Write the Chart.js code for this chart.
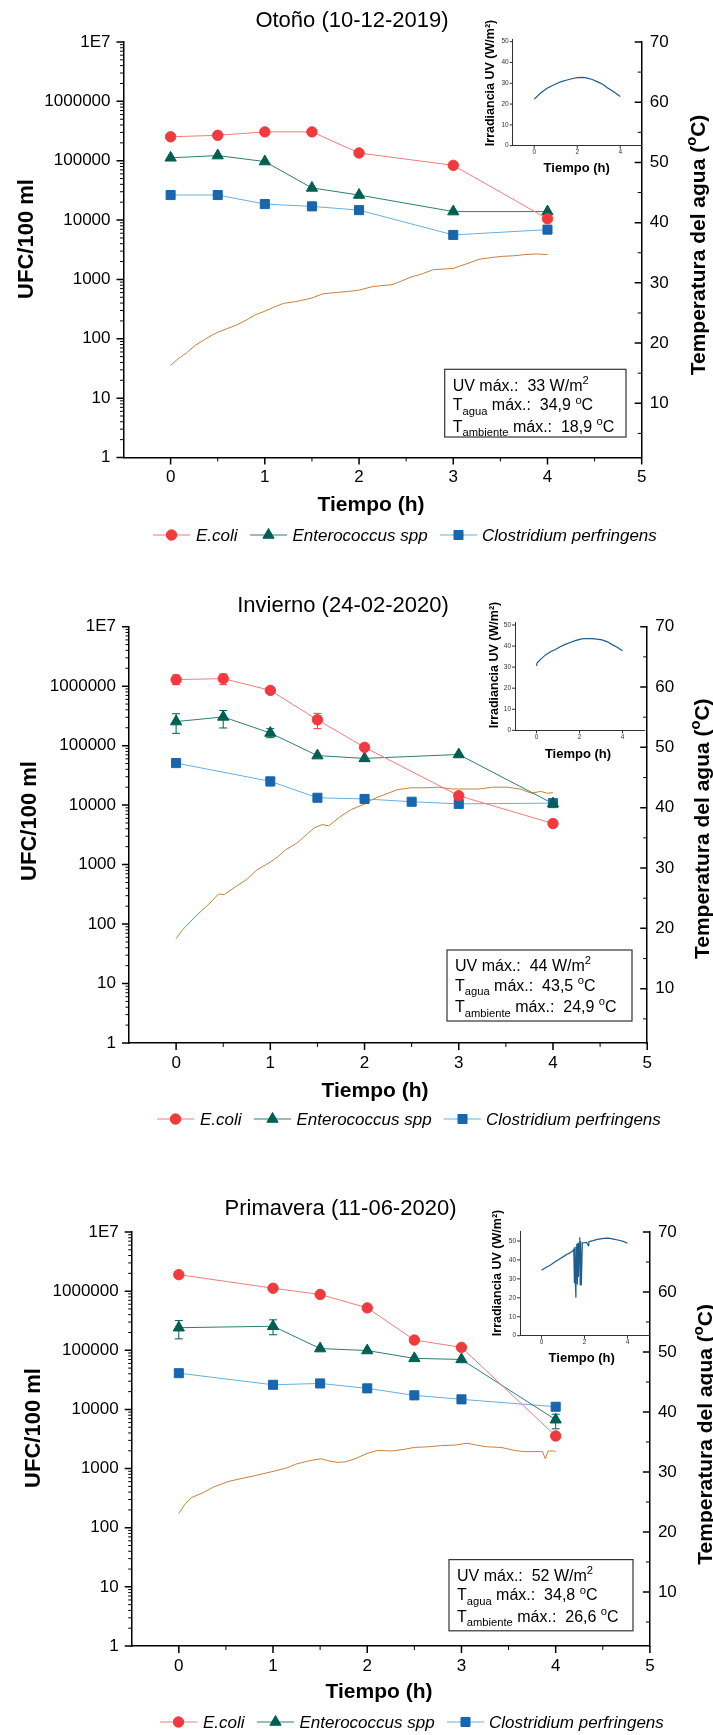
<!DOCTYPE html>
<html>
<head>
<meta charset="utf-8">
<script src="https://cdn.jsdelivr.net/npm/chart.js@4.4.1/dist/chart.umd.min.js"></script>
<style>
  body { margin: 0; background: #fff; }
  #wrap { position: relative; width: 713px; height: 1735px; overflow: hidden; }
  canvas { position: absolute; }
</style>
</head>
<body>
<div id="wrap">
  <canvas id="c1" width="713" height="585" style="left:0;top:0"></canvas>
  <canvas id="c2" width="713" height="560" style="left:0;top:585px"></canvas>
  <canvas id="c3" width="713" height="545" style="left:0;top:1190px"></canvas>
  <canvas id="i1" width="195" height="175" style="left:460px;top:5px"></canvas>
  <canvas id="i2" width="195" height="175" style="left:460px;top:590px"></canvas>
  <canvas id="i3" width="195" height="180" style="left:460px;top:1195px"></canvas>
</div>
<script>
const FONT = '"Liberation Sans", Arial, sans-serif';

// ticks / labels
const xTickVals = [0, 1, 2, 3, 4, 5];
const logTickVals = [1, 10, 100, 1000, 10000, 100000, 1000000, 10000000];
const logTickLabels = ['1', '10', '100', '1000', '10000', '100000', '1000000', '1E7'];
const tempTickVals = [10, 20, 30, 40, 50, 60, 70];
const uvTickVals = [0, 10, 20, 30, 40, 50];
const uvXTickVals = [0, 2, 4];
const seriesNames = ['E.coli', 'Enterococcus spp', 'Clostridium perfringens'];

// --- Otoño (10-12-2019)
const tEcoli1 = [0, 0.5, 1, 1.5, 2, 3, 4];
const ecoli1 = [253000, 268000, 306000, 306000, 135000, 83600, 10500];
const tEntero1 = [0, 0.5, 1, 1.5, 2, 3, 4];
const entero1 = [112000, 122000, 96800, 34800, 26400, 13900, 13900];
const tClost1 = [0, 0.5, 1, 1.5, 2, 3, 4];
const clost1 = [26400, 26400, 18600, 17000, 14700, 5620, 6900];
const tempT1 = [0, 0.08, 0.17, 0.26, 0.36, 0.45, 0.5, 0.6, 0.7, 0.8, 0.9, 1.0, 1.1, 1.2, 1.33, 1.45, 1.5, 1.62, 1.76, 1.9, 2.0, 2.15, 2.35, 2.45, 2.54, 2.67, 2.79, 2.9, 3.0, 3.13, 3.27, 3.4, 3.52, 3.64, 3.76, 3.88, 4.0];
const temp1 = [16.3, 17.4, 18.4, 19.6, 20.6, 21.4, 21.8, 22.4, 23.0, 23.8, 24.7, 25.3, 26.0, 26.6, 26.9, 27.3, 27.5, 28.2, 28.4, 28.6, 28.8, 29.4, 29.7, 30.3, 30.9, 31.5, 32.2, 32.3, 32.4, 33.1, 33.9, 34.2, 34.4, 34.5, 34.7, 34.8, 34.7];
const uvT1 = [0, 0.3, 0.6, 0.9, 1.07, 1.3, 1.53, 1.8, 2.0, 2.25, 2.47, 2.7, 2.93, 3.2, 3.4, 3.7, 4.0];
const uv1 = [22.4, 25.3, 27.6, 29.2, 30.0, 30.9, 31.6, 32.3, 32.7, 32.8, 32.5, 31.8, 30.8, 29.4, 27.9, 25.9, 23.6];

// --- Invierno (24-02-2020)
const tEcoli2 = [0, 0.5, 1, 1.5, 2, 3, 4];
const ecoli2 = [1290000, 1340000, 850000, 272000, 93700, 14400, 4900];
const ecoliLo2 = [1060000, 1060000, 760000, 193000, 83000, null, null];
const ecoliHi2 = [1540000, 1600000, 950000, 349000, 106000, null, null];
const tEntero2 = [0, 0.5, 1, 1.5, 2, 3, 4];
const entero2 = [254000, 304000, 163000, 68000, 61000, 71000, 10600];
const enteroLo2 = [161000, 198000, 136000, null, null, null, null];
const enteroHi2 = [344000, 390000, 193000, null, null, null, null];
const tClost2 = [0, 1, 1.5, 2, 2.5, 3, 4];
const clost2 = [50900, 25100, 13300, 12700, 11400, 10500, 10800];
const clostLo2 = [null, 21000, null, null, null, null, null];
const clostHi2 = [null, 28000, null, null, null, null, null];
const tempT2 = [0, 0.07, 0.22, 0.36, 0.45, 0.51, 0.63, 0.75, 0.85, 1.0, 1.09, 1.16, 1.28, 1.38, 1.47, 1.55, 1.62, 1.74, 1.86, 2.0, 2.1, 2.25, 2.35, 2.49, 2.64, 2.78, 2.93, 3.07, 3.22, 3.36, 3.51, 3.65, 3.77, 3.87, 3.94, 4.0];
const temp2 = [18.3, 19.8, 22.2, 24.2, 25.7, 25.6, 26.9, 28.1, 29.6, 31.0, 32.0, 33.0, 34.1, 35.5, 36.7, 37.2, 37.0, 38.5, 39.7, 40.6, 41.5, 42.4, 43.0, 43.3, 43.3, 43.4, 43.1, 43.1, 43.1, 43.4, 43.4, 43.1, 42.4, 42.7, 42.4, 42.5];
const uvT2 = [0, 0.03, 0.2, 0.42, 0.65, 0.88, 1.1, 1.34, 1.6, 1.8, 2.1, 2.35, 2.58, 2.8, 3.05, 3.3, 3.5, 3.75, 4.0];
const uv2 = [30.6, 32.0, 33.8, 35.8, 37.3, 38.4, 39.7, 40.8, 41.8, 42.6, 43.4, 43.6, 43.5, 43.3, 42.9, 42.0, 40.8, 39.4, 37.8];

// --- Primavera (11-06-2020)
const tEcoli3 = [0, 1, 1.5, 2, 2.5, 3, 4];
const ecoli3 = [1900000, 1120000, 879000, 521000, 149000, 112000, 3560];
const tEntero3 = [0, 1, 1.5, 2, 2.5, 3, 4];
const entero3 = [241000, 255000, 107000, 99000, 73000, 70000, 6700];
const enteroLo3 = [156000, 183000, null, null, null, null, 4700];
const enteroHi3 = [318000, 327000, null, null, null, null, 8300];
const tClost3 = [0, 1, 1.5, 2, 2.5, 3, 4];
const clost3 = [41000, 26100, 27500, 22700, 17300, 14800, 11100];
const tempT3 = [0, 0.06, 0.13, 0.25, 0.37, 0.52, 0.66, 0.81, 1.0, 1.15, 1.24, 1.39, 1.51, 1.58, 1.68, 1.77, 1.87, 2.0, 2.11, 2.26, 2.4, 2.5, 2.65, 2.79, 2.94, 3.06, 3.15, 3.27, 3.42, 3.56, 3.66, 3.76, 3.86, 3.89, 3.92, 3.98, 4.0];
const temp3 = [23.1, 24.5, 25.7, 26.5, 27.5, 28.4, 28.9, 29.4, 30.1, 30.7, 31.3, 31.9, 32.2, 31.9, 31.6, 31.7, 32.2, 33.1, 33.6, 33.5, 33.8, 34.1, 34.2, 34.4, 34.5, 34.8, 34.5, 34.2, 34.1, 33.6, 33.4, 33.4, 33.4, 32.2, 33.5, 33.5, 33.4];
const uvT3 = [0, 0.2, 0.42, 0.65, 0.88, 1.05, 1.19, 1.3, 1.42, 1.5, 1.53, 1.55, 1.57, 1.6, 1.62, 1.64, 1.67, 1.7, 1.72, 1.75, 1.78, 1.8, 1.82, 1.85, 1.9, 2.0, 2.1, 2.18, 2.2, 2.25, 2.4, 2.6, 2.9, 3.1, 3.36, 3.6, 3.8, 4.0];
const uv3 = [34.5, 36.0, 37.3, 39.2, 40.8, 42.0, 43.0, 43.6, 44.4, 45.5, 28.0, 47.0, 30.0, 20.0, 46.5, 48.5, 27.0, 49.0, 31.0, 48.0, 52.0, 27.0, 50.0, 26.5, 49.0, 49.1, 49.3, 47.5, 49.5, 49.8, 50.2, 50.8, 51.4, 51.5, 51.0, 50.4, 49.8, 48.8];

const styles = [
  { line: '#F47C7C', fill: '#F03A3E', shape: 'circle', r: 5.2 },
  { line: '#2E7D70', fill: '#005F52', shape: 'triangle', r: 6.5 },
  { line: '#6AAEDD', fill: '#1766AE', shape: 'rect', r: 6.4 }
];
const TEMP_COLOR = '#C8803E';
const UV_COLOR = '#1F5C8C';

Chart.defaults.font.family = FONT;
Chart.defaults.color = '#000';

function pts(ts, vs) {
  return ts.map((t, i) => ({ x: t, y: vs[i] }));
}

function capText(ctx, s, x, cy, size, font, align) {
  ctx.font = (font || '') + ' ' + size + 'px ' + FONT;
  ctx.textAlign = align || 'center';
  ctx.textBaseline = 'alphabetic';
  ctx.fillText(s, x, cy + 0.358 * size);
}

// segs: [text, kind] with kind '', 'sub' or 'sup'
function rich(ctx, segs, x, cy, size, weight, align) {
  const base = cy + 0.358 * size;
  const fontOf = k => (weight || '') + ' ' + (k ? size * 0.7 : size) + 'px ' + FONT;
  let w = 0;
  segs.forEach(s => { ctx.font = fontOf(s[1]); w += ctx.measureText(s[0]).width; });
  let cx = align === 'center' ? x - w / 2 : x;
  ctx.textAlign = 'left';
  ctx.textBaseline = 'alphabetic';
  segs.forEach(s => {
    ctx.font = fontOf(s[1]);
    const dy = s[1] === 'sub' ? size * 0.28 : s[1] === 'sup' ? -size * 0.42 : 0;
    ctx.fillText(s[0], cx, base + dy);
    cx += ctx.measureText(s[0]).width;
  });
}

function makeDecor(P) {
  return {
    id: 'decor',
    beforeDatasetsDraw(chart) {
      const ctx = chart.ctx, sx = chart.scales.x, sy = chart.scales.y;
      (P.errors || []).forEach(e => {
        ctx.save();
        ctx.strokeStyle = styles[e.s].fill;
        ctx.lineWidth = 1;
        ctx.beginPath();
        e.t.forEach((t, i) => {
          if (e.lo[i] == null) return;
          const px = sx.getPixelForValue(t);
          const p1 = sy.getPixelForValue(e.lo[i]), p2 = sy.getPixelForValue(e.hi[i]);
          ctx.moveTo(px, p1); ctx.lineTo(px, p2);
          ctx.moveTo(px - 4, p1); ctx.lineTo(px + 4, p1);
          ctx.moveTo(px - 4, p2); ctx.lineTo(px + 4, p2);
        });
        ctx.stroke();
        ctx.restore();
      });
    },
    afterDraw(chart) {
      const ctx = chart.ctx, a = chart.chartArea;
      const sx = chart.scales.x, sy = chart.scales.y, sy2 = chart.scales.y2;
      const T = P.top;
      ctx.save();
      ctx.strokeStyle = '#000';
      // major ticks
      ctx.lineWidth = 1.5;
      ctx.beginPath();
      logTickVals.forEach(v => { const py = sy.getPixelForValue(v); ctx.moveTo(a.left - 7, py); ctx.lineTo(a.left, py); });
      xTickVals.forEach(v => { const px = sx.getPixelForValue(v); ctx.moveTo(px, a.bottom); ctx.lineTo(px, a.bottom + 7); });
      tempTickVals.forEach(v => { const py = sy2.getPixelForValue(v); ctx.moveTo(a.right - 7, py); ctx.lineTo(a.right, py); });
      ctx.stroke();
      // minor ticks
      ctx.lineWidth = 1;
      ctx.beginPath();
      for (let d = 1; d < 1e7; d *= 10) {
        for (let m = 2; m <= 9; m++) { const py = sy.getPixelForValue(m * d); ctx.moveTo(a.left - 3.5, py); ctx.lineTo(a.left, py); }
      }
      xTickVals.forEach(v => { if (v < 5) { const px = sx.getPixelForValue(v + 0.5); ctx.moveTo(px, a.bottom); ctx.lineTo(px, a.bottom + 4); } });
      tempTickVals.forEach(v => { const py = sy2.getPixelForValue(v - 5); ctx.moveTo(a.right - 4, py); ctx.lineTo(a.right, py); });
      ctx.stroke();

      ctx.fillStyle = '#000';
      // panel title
      capText(ctx, P.title, P.titleX, P.titleY - T, 22, '');
      // axis titles
      capText(ctx, 'Tiempo (h)', P.xTitle[0], P.xTitle[1] - T, 21, 'bold');
      ctx.save();
      ctx.translate(P.yTitle[0], P.yTitle[1] - T);
      ctx.rotate(-Math.PI / 2);
      capText(ctx, 'UFC/100 ml', 0, 0, 22, 'bold');
      ctx.restore();
      ctx.save();
      ctx.translate(P.y2Title[0], P.y2Title[1] - T);
      ctx.rotate(-Math.PI / 2);
      rich(ctx, [['Temperatura del agua (', ''], ['o', 'sup'], ['C)', '']], 0, 0, 21, 'bold', 'center');
      ctx.restore();

      // info box
      const b = P.box;
      ctx.strokeStyle = '#333';
      ctx.lineWidth = 1.2;
      ctx.strokeRect(b[0], b[1] - T, b[2], b[3]);
      P.boxLines.forEach((ln, i) => rich(ctx, ln, b[0] + 8, P.lineY[i] - T, 16, '', 'left'));

      // legend
      const legX = [[153, 190, 196], [250, 287, 292.5], [440, 477, 482]];
      const ly = P.legendY - T;
      legX.forEach((lx, i) => {
        const st = styles[i];
        const x1 = lx[0] + P.legendDx, x2 = lx[1] + P.legendDx;
        ctx.strokeStyle = st.line;
        ctx.lineWidth = 1;
        ctx.beginPath(); ctx.moveTo(x1, ly); ctx.lineTo(x2, ly); ctx.stroke();
        ctx.fillStyle = st.fill;
        ctx.strokeStyle = st.fill;
        Chart.helpers.drawPoint(ctx, { pointStyle: st.shape, radius: st.r, rotation: 0, borderWidth: 1 }, (x1 + x2) / 2, ly);
        ctx.fillStyle = '#000';
        capText(ctx, seriesNames[i], lx[2] + P.legendDx, ly, 17, 'italic', 'left');
      });
      ctx.restore();
    }
  };
}

function seriesDs(i, ts, vs) {
  const st = styles[i];
  return {
    label: seriesNames[i], data: pts(ts, vs), yAxisID: 'y',
    borderColor: st.line, borderWidth: 1, tension: 0,
    pointStyle: st.shape, pointRadius: st.r, pointBackgroundColor: st.fill,
    pointBorderColor: st.fill, pointBorderWidth: 1
  };
}

function makePanel(id, P) {
  const xh = P.height - (P.plotBottom - P.top);
  new Chart(document.getElementById(id), {
    type: 'line',
    data: {
      datasets: [
        seriesDs(0, P.s[0][0], P.s[0][1]),
        seriesDs(1, P.s[1][0], P.s[1][1]),
        seriesDs(2, P.s[2][0], P.s[2][1]),
        { label: 'T agua', data: pts(P.temp[0], P.temp[1]), yAxisID: 'y2', borderColor: TEMP_COLOR, borderWidth: 1, pointRadius: 0, tension: 0 }
      ]
    },
    options: {
      responsive: false, animation: false, devicePixelRatio: 1,
      layout: { padding: { top: P.plotTop - P.top, left: 0, right: 0, bottom: 0 } },
      plugins: { legend: { display: false }, tooltip: { enabled: false } },
      scales: {
        x: {
          type: 'linear', min: -0.5, max: 5,
          afterBuildTicks: s => { s.ticks = xTickVals.map(v => ({ value: v })); },
          ticks: { font: { size: 17 }, padding: 10, autoSkip: false, maxRotation: 0 },
          grid: { display: false, drawTicks: false },
          border: { display: true, color: '#000', width: 1.5 },
          afterFit: s => { s.height = xh; }
        },
        y: {
          type: 'logarithmic', position: 'left', min: 1, max: 1e7,
          afterBuildTicks: s => { s.ticks = logTickVals.map(v => ({ value: v })); },
          ticks: { callback: (v, i) => logTickLabels[i], font: { size: 17 }, padding: 13, autoSkip: false },
          grid: { display: false, drawTicks: false },
          border: { display: true, color: '#000', width: 1.5 },
          afterFit: s => { s.width = P.left; }
        },
        y2: {
          type: 'linear', position: 'right', min: 1, max: 70,
          afterBuildTicks: s => { s.ticks = tempTickVals.map(v => ({ value: v })); },
          ticks: { font: { size: 17 }, padding: 8, autoSkip: false },
          grid: { display: false, drawTicks: false },
          border: { display: true, color: '#000', width: 1.5 },
          afterFit: s => { s.width = 713 - P.right; }
        }
      }
    },
    plugins: [makeDecor(P)]
  });
}

function makeInset(id, S) {
  new Chart(document.getElementById(id), {
    type: 'line',
    data: { datasets: [{ data: pts(S.uv[0], S.uv[1]), borderColor: UV_COLOR, borderWidth: 1.2, pointRadius: 0, tension: 0 }] },
    options: {
      responsive: false, animation: false, devicePixelRatio: 1,
      layout: { padding: { top: S.padTop, left: 0, right: S.padRight, bottom: 0 } },
      plugins: { legend: { display: false }, tooltip: { enabled: false } },
      scales: {
        x: {
          type: 'linear', min: -1, max: 5,
          afterBuildTicks: s => { s.ticks = uvXTickVals.map(v => ({ value: v })); },
          ticks: { font: { size: 6.5 }, color: '#333', padding: 3, autoSkip: false, maxRotation: 0 },
          grid: { display: false, drawTicks: false },
          border: { display: true, color: '#333', width: 1 },
          afterFit: s => { s.height = S.xh; }
        },
        y: {
          type: 'linear', min: 0, max: S.ymax,
          afterBuildTicks: s => { s.ticks = uvTickVals.map(v => ({ value: v })); },
          ticks: { font: { size: 6.5 }, color: '#333', padding: 4, autoSkip: false },
          grid: { display: false, drawTicks: false },
          border: { display: true, color: '#333', width: 1 },
          afterFit: s => { s.width = S.yw; }
        }
      }
    },
    plugins: [{
      id: 'insetDecor',
      afterDraw(chart) {
        const ctx = chart.ctx, a = chart.chartArea, sx = chart.scales.x, sy = chart.scales.y;
        ctx.save();
        ctx.strokeStyle = '#333';
        ctx.lineWidth = 1;
        ctx.beginPath();
        uvTickVals.forEach(v => { const py = sy.getPixelForValue(v); ctx.moveTo(a.left - 3, py); ctx.lineTo(a.left, py); });
        uvXTickVals.forEach(v => { const px = sx.getPixelForValue(v); ctx.moveTo(px, a.bottom); ctx.lineTo(px, a.bottom + 3); });
        ctx.stroke();
        ctx.fillStyle = '#000';
        capText(ctx, 'Tiempo (h)', S.xt[0] - 460, S.xt[1] - S.top, 13, 'bold');
        ctx.translate(S.yt[0] - 460, S.yt[1] - S.top);
        ctx.rotate(-Math.PI / 2);
        capText(ctx, 'Irradiancia UV (W/m²)', 0, 0, 12.5, 'bold');
        ctx.restore();
      }
    }]
  });
}

const boxLines = (uv, ta, tamb) => [
  [['UV máx.:  ' + uv + ' W/m', ''], ['2', 'sup']],
  [['T', ''], ['agua', 'sub'], [' máx.:  ' + ta + ' ', ''], ['o', 'sup'], ['C', '']],
  [['T', ''], ['ambiente', 'sub'], [' máx.:  ' + tamb + ' ', ''], ['o', 'sup'], ['C', '']]
];

makePanel('c1', {
  top: 0, height: 585, left: 123.5, right: 641.7, plotTop: 42, plotBottom: 457.5,
  s: [[tEcoli1, ecoli1], [tEntero1, entero1], [tClost1, clost1]], temp: [tempT1, temp1],
  title: 'Otoño (10-12-2019)', titleX: 352, titleY: 19,
  xTitle: [371, 503], yTitle: [25.2, 239], y2Title: [697.5, 245],
  box: [444.7, 369.3, 181.3, 67.7], lineY: [385, 404.5, 426], boxLines: boxLines('33', '34,9', '18,9'),
  legendY: 535, legendDx: 0
});
makePanel('c2', {
  top: 585, height: 560, left: 129, right: 647.2, plotTop: 626.7, plotBottom: 1043,
  s: [[tEcoli2, ecoli2], [tEntero2, entero2], [tClost2, clost2]], temp: [tempT2, temp2],
  errors: [
    { s: 0, t: tEcoli2, lo: ecoliLo2, hi: ecoliHi2 },
    { s: 1, t: tEntero2, lo: enteroLo2, hi: enteroHi2 },
    { s: 2, t: tClost2, lo: clostLo2, hi: clostHi2 }
  ],
  title: 'Invierno (24-02-2020)', titleX: 343, titleY: 604.5,
  xTitle: [375, 1089], yTitle: [28.5, 821], y2Title: [701.5, 828.7],
  box: [447, 950, 185, 71], lineY: [965.2, 984.9, 1006.4], boxLines: boxLines('44', '43,5', '24,9'),
  legendY: 1119, legendDx: 4
});
makePanel('c3', {
  top: 1190, height: 545, left: 131.7, right: 649.9, plotTop: 1232, plotBottom: 1646,
  s: [[tEcoli3, ecoli3], [tEntero3, entero3], [tClost3, clost3]], temp: [tempT3, temp3],
  errors: [
    { s: 1, t: tEntero3, lo: enteroLo3, hi: enteroHi3 }
  ],
  title: 'Primavera (11-06-2020)', titleX: 340.5, titleY: 1206.7,
  xTitle: [379, 1690], yTitle: [32, 1428], y2Title: [704, 1434.4],
  box: [449, 1559.6, 184, 71.2], lineY: [1575, 1594.5, 1615.8], boxLines: boxLines('52', '34,8', '26,6'),
  legendY: 1722, legendDx: 7
});

makeInset('i1', { uv: [uvT1, uv1], top: 5, yw: 52.7, padRight: 13.3, padTop: 34.6, xh: 34.3, ymax: 51, xt: [576.7, 167], yt: [490, 83] });
makeInset('i2', { uv: [uvT2, uv2], top: 590, yw: 55, padRight: 11, padTop: 32.9, xh: 34.7, ymax: 51, xt: [578, 753.3], yt: [493.3, 665] });
makeInset('i3', { uv: [uvT3, uv3], top: 1195, yw: 60, padRight: 6, padTop: 36.5, xh: 39.3, ymax: 55, xt: [581.7, 1357.3], yt: [496.7, 1273] });
</script>
</body>
</html>
